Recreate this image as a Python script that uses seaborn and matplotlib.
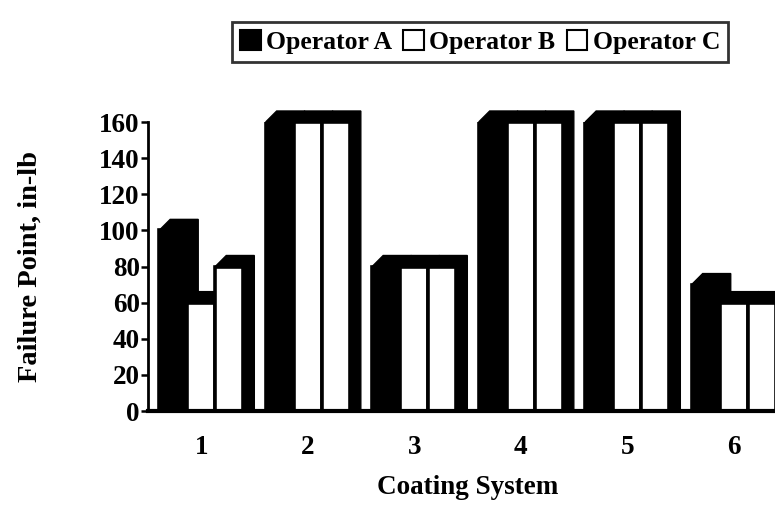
import matplotlib
matplotlib.use("Agg")
import matplotlib.pyplot as plt
from matplotlib.patches import Polygon, Patch
import seaborn as sns
import pandas as pd

systems = ["1", "2", "3", "4", "5", "6"]
operators = ["Operator A", "Operator B", "Operator C"]
op_a = [100, 160, 80, 160, 160, 70]
op_b = [60, 160, 80, 160, 160, 60]
op_c = [80, 160, 80, 160, 160, 60]
yticks = [0, 20, 40, 60, 80, 100, 120, 140, 160]

rows = []
for op, vals in zip(operators, [op_a, op_b, op_c]):
    for s, v in zip(systems, vals):
        rows.append({"system": s, "operator": op, "value": v})
df = pd.DataFrame(rows)

sns.set_theme(style="white")
plt.rcParams["font.family"] = ["Liberation Serif", "DejaVu Serif"]
plt.rcParams["font.weight"] = "bold"

W, H = 775, 511
fig = plt.figure(figsize=(W / 100, H / 100), dpi=100)
ax_left, ax_bottom, ax_w, ax_h = 148, 411, 639, 289
ax = fig.add_axes([ax_left / W, 1 - ax_bottom / H, ax_w / W, ax_h / H])

palette = {"Operator A": "black", "Operator B": "white", "Operator C": "white"}
sns.barplot(data=df, x="system", y="value", hue="operator", palette=palette,
            width=0.79, edgecolor="black", linewidth=2.6, ax=ax,
            saturation=1, legend=False)

ax.set_xlim(-0.5, 5.5)
ax.set_ylim(0, 160)

# 3-D depth faces derived from the drawn bars
px_per_x = ax_w / 6.0
px_per_y = ax_h / 160.0
dx = 11 / px_per_x
dy = 11 / px_per_y
for i, cont in enumerate(ax.containers):
    for bar in cont:
        bar.set_zorder(2 + i * 0.1)
        x0 = bar.get_x(); w = bar.get_width(); h = bar.get_height()
        x1 = x0 + w
        poly = Polygon([(x0, h), (x0 + dx, h + dy), (x1 + dx, h + dy),
                        (x1 + dx, 0), (x1, 0), (x1, h)], closed=True,
                       facecolor="black", edgecolor="black", linewidth=1,
                       zorder=2 + i * 0.1 - 0.05, clip_on=False)
        ax.add_patch(poly)

sns.despine(ax=ax, top=True, right=True)
ax.spines["left"].set_linewidth(2)
ax.spines["bottom"].set_linewidth(3)
ax.spines["left"].set_color("black")
ax.spines["bottom"].set_color("black")
ax.spines["bottom"].set_zorder(5)

ax.set_yticks(yticks)
ax.set_yticklabels([str(t) for t in yticks])
ax.tick_params(axis="y", left=True, direction="out", length=5, width=1.8,
               color="black", pad=1, labelsize=19.5, labelcolor="black")
ax.tick_params(axis="x", bottom=False, pad=11, labelsize=19.5, labelcolor="black")
for lab in ax.get_xticklabels() + ax.get_yticklabels():
    lab.set_fontweight("bold")

ax.set_ylabel("Failure Point, in-lb", fontsize=20.5, fontweight="bold", color="black")
ax.set_xlabel("Coating System", fontsize=19.5, fontweight="bold", color="black")
ax.yaxis.set_label_coords(-0.165, 0.5)
ax.xaxis.set_label_coords(0.5, -0.222)

handles = [Patch(facecolor=palette[o], edgecolor="black", linewidth=1.5) for o in operators]
leg = fig.legend(handles, operators, loc="center",
                 bbox_to_anchor=(480 / W, 1 - 42 / H), ncol=3, frameon=True,
                 fancybox=False, handlelength=0.8, handleheight=0.8,
                 handletextpad=0.2, columnspacing=0.45, borderpad=0.3,
                 prop={"family": ["Liberation Serif"], "weight": "bold", "size": 18.5})
leg.get_frame().set_edgecolor("black")
leg.get_frame().set_linewidth(2)
for t in leg.get_texts():
    t.set_color("black")

fig.savefig("out.png", dpi=100)
